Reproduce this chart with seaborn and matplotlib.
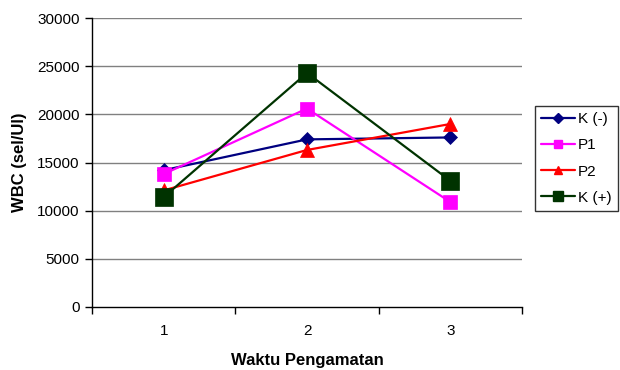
import matplotlib
matplotlib.use("Agg")
import matplotlib.pyplot as plt
import seaborn as sns
import pandas as pd
from matplotlib.lines import Line2D
from matplotlib.ticker import FixedLocator, NullFormatter

# Observation times and WBC counts per group
waktu = [1, 2, 3]
k_neg = [14200, 17400, 17600]
p1 = [13800, 20600, 10900]
p2 = [12100, 16300, 19000]
k_pos = [11400, 24300, 13100]

series_names = ["K (-)", "P1", "P2", "K (+)"]
series_values = [k_neg, p1, p2, k_pos]
colors = ["#000080", "#ff00ff", "#ff0000", "#003300"]
markers = ["D", "s", "^", "s"]
msizes = [7.5, 9.5, 9.5, 12.5]

y_ticks = [0, 5000, 10000, 15000, 20000, 25000, 30000]

sns.set_theme(style="white")
plt.rcParams["font.family"] = ["Liberation Sans", "DejaVu Sans"]
plt.rcParams["text.color"] = "black"
plt.rcParams["axes.labelcolor"] = "black"

fig = plt.figure(figsize=(6.2, 3.7), dpi=100)
ax = fig.add_axes([92 / 620, 1 - 307 / 370, 430 / 620, 289 / 370])

for name, vals, c, m, s in zip(series_names, series_values, colors, markers, msizes):
    df = pd.DataFrame({"Waktu": waktu, "WBC": vals})
    sns.lineplot(data=df, x="Waktu", y="WBC", ax=ax, color=c, marker=m,
                 markersize=s, markeredgecolor=c, markeredgewidth=0.5,
                 linewidth=1.6, label=name, legend=False, zorder=3)

ax.set_xlim(0.5, 3.5)
ax.set_ylim(0, 30000)
ax.set_yticks(y_ticks)
ax.set_yticklabels([str(v) for v in y_ticks], fontsize=11, color="black")

# Category axis: tick marks between categories, labels at centers
ax.xaxis.set_major_locator(FixedLocator([0.5, 1.5, 2.5, 3.5]))
ax.xaxis.set_major_formatter(NullFormatter())
ax.xaxis.set_minor_locator(FixedLocator(waktu))
ax.set_xticklabels([str(w) for w in waktu], minor=True, fontsize=11, color="black")
ax.tick_params(axis="x", which="major", direction="out", length=5, width=1,
               color="black", bottom=True)
ax.tick_params(axis="x", which="minor", length=0, pad=12)
ax.tick_params(axis="y", direction="out", length=5, width=1, color="black",
               left=True, pad=4)

for v in y_ticks[1:]:
    ax.axhline(v, color="#808080", linewidth=1, zorder=1)

for side in ["top", "right"]:
    ax.spines[side].set_visible(False)
for side in ["left", "bottom"]:
    ax.spines[side].set_color("black")
    ax.spines[side].set_linewidth(1)

ax.set_xlabel("Waktu Pengamatan", fontsize=12, fontweight="bold",
              labelpad=11, color="black")
ax.set_ylabel("WBC (sel/Ul)", fontsize=12, fontweight="bold",
              labelpad=7, color="black")

handles = [Line2D([], [], color=c, marker=m, markersize=s * 0.62,
                  markeredgecolor=c, linewidth=1.6)
           for c, m, s in zip(colors, markers, msizes)]
leg = fig.legend(handles, series_names, loc="upper left",
                 bbox_to_anchor=(535 / 620, 1 - 106 / 370), fontsize=11,
                 frameon=True, fancybox=False, handlelength=2.2,
                 handletextpad=0.2, labelspacing=0.8, borderpad=0.4,
                 borderaxespad=0)
leg.get_frame().set_edgecolor("black")
leg.get_frame().set_linewidth(1)
for t in leg.get_texts():
    t.set_color("black")

fig.savefig("out.png", dpi=100)
